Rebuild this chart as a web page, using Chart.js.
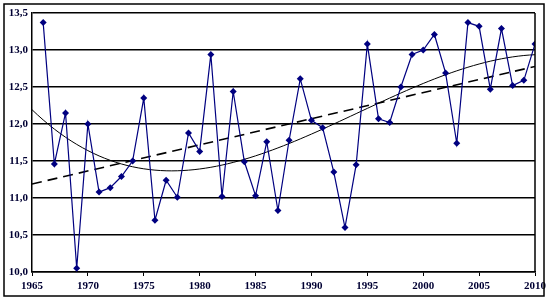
<!DOCTYPE html>
<html>
<head>
<meta charset="utf-8">
<script src="https://cdn.jsdelivr.net/npm/chart.js@4.4.1/dist/chart.umd.min.js"></script>
<style>
  html, body { margin: 0; padding: 0; background: #fff; }
  #wrap { width: 550px; height: 301px; position: relative; }
</style>
</head>
<body>
<div id="wrap"><canvas id="chart" width="550" height="301"></canvas></div>
<script>
const years = [1966, 1967, 1968, 1969, 1970, 1971, 1972, 1973, 1974, 1975,
  1976, 1977, 1978, 1979, 1980, 1981, 1982, 1983, 1984, 1985,
  1986, 1987, 1988, 1989, 1990, 1991, 1992, 1993, 1994, 1995,
  1996, 1997, 1998, 1999, 2000, 2001, 2002, 2003, 2004, 2005,
  2006, 2007, 2008, 2009, 2010];
const values = [13.37, 11.46, 12.15, 10.05, 12.0, 11.08, 11.14, 11.29, 11.5, 12.35,
  10.7, 11.24, 11.01, 11.88, 11.63, 12.94, 11.02, 12.44, 11.49, 11.03,
  11.76, 10.83, 11.78, 12.61, 12.05, 11.95, 11.35, 10.6, 11.45, 13.08,
  12.07, 12.02, 12.5, 12.94, 13.0, 13.21, 12.69, 11.74, 13.37, 13.32,
  12.47, 13.29, 12.52, 12.59, 13.08];
const yTicks = [10.0, 10.5, 11.0, 11.5, 12.0, 12.5, 13.0, 13.5];
const xTicks = [1965, 1970, 1975, 1980, 1985, 1990, 1995, 2000, 2005, 2010];

/* least squares fit of given order, x centred */
function polyFit(xs, ys, order) {
  const x0 = 1987.5;
  const n = order + 1;
  const A = [];
  for (let i = 0; i < n; i++) { A.push(new Array(n + 1).fill(0)); }
  xs.forEach((xv, k) => {
    const t = (xv - x0) / 10;
    for (let i = 0; i < n; i++) {
      for (let j = 0; j < n; j++) A[i][j] += Math.pow(t, i + j);
      A[i][n] += ys[k] * Math.pow(t, i);
    }
  });
  for (let i = 0; i < n; i++) {
    let p = i;
    for (let r = i + 1; r < n; r++) if (Math.abs(A[r][i]) > Math.abs(A[p][i])) p = r;
    [A[i], A[p]] = [A[p], A[i]];
    for (let r = 0; r < n; r++) {
      if (r === i) continue;
      const f = A[r][i] / A[i][i];
      for (let c = i; c <= n; c++) A[r][c] -= f * A[i][c];
    }
  }
  const coef = A.map((row, i) => row[n] / row[i]);
  return x => {
    const t = (x - x0) / 10;
    return coef.reduce((s, c, i) => s + c * Math.pow(t, i), 0);
  };
}

const linFit = polyFit(years, values, 1);
const curveFit = polyFit(years, values, 3);
const curvePts = [];
for (let x = 1965; x <= 2010; x += 0.5) curvePts.push({ x, y: curveFit(x) });
const linPts = [{ x: 1965, y: linFit(1965) }, { x: 2010, y: linFit(2010) }];

const frame = {
  id: "frame",
  afterDraw(chart) {
    const { ctx, chartArea: a } = chart;
    ctx.save();
    ctx.strokeStyle = "#000";
    ctx.lineWidth = 1.5;
    ctx.beginPath();
    ctx.moveTo(a.right, a.top);
    ctx.lineTo(a.right, a.bottom);
    ctx.stroke();
    ctx.strokeRect(4, 4, 540, 292);
    ctx.restore();
  }
};

new Chart(document.getElementById("chart"), {
  type: "line",
  data: {
    datasets: [
      {
        data: years.map((y, i) => ({ x: y, y: values[i] })),
        borderColor: "#000080",
        backgroundColor: "#000080",
        borderWidth: 1.2,
        pointStyle: "rectRot",
        pointRadius: 3.5,
        pointBorderWidth: 0,
        tension: 0,
        order: 1
      },
      {
        data: curvePts,
        borderColor: "#000",
        borderWidth: 1,
        pointRadius: 0,
        tension: 0,
        order: 2
      },
      {
        data: linPts,
        borderColor: "#000",
        borderWidth: 1.6,
        borderDash: [10, 6],
        pointRadius: 0,
        order: 3
      }
    ]
  },
  options: {
    responsive: false,
    animation: false,
    devicePixelRatio: 1,
    layout: { padding: { left: 0, top: 13, right: 14, bottom: 0 } },
    plugins: { legend: { display: false }, tooltip: { enabled: false } },
    scales: {
      x: {
        type: "linear",
        min: 1965,
        max: 2010,
        afterFit: s => { s.height = 29; },
        afterBuildTicks: s => { s.ticks = xTicks.map(v => ({ value: v })); },
        grid: { drawOnChartArea: false, drawTicks: true, tickLength: 4, color: "#000", lineWidth: 1 },
        border: { color: "#000", width: 1.5 },
        ticks: {
          color: "#000033",
          font: { family: "Liberation Serif", weight: "bold", size: 11 },
          padding: 4,
          maxRotation: 0,
          autoSkip: false,
          callback: v => String(v)
        }
      },
      y: {
        min: 10,
        max: 13.5,
        afterFit: s => { s.width = 32; },
        afterBuildTicks: s => { s.ticks = yTicks.map(v => ({ value: v })); },
        grid: { color: "#000", lineWidth: 1.5, drawTicks: false },
        border: { color: "#000", width: 1.5 },
        ticks: {
          color: "#000033",
          font: { family: "Liberation Serif", weight: "bold", size: 11 },
          padding: 4,
          autoSkip: false,
          callback: v => v.toFixed(1).replace(".", ",")
        }
      }
    }
  },
  plugins: [frame]
});
</script>
</body>
</html>
